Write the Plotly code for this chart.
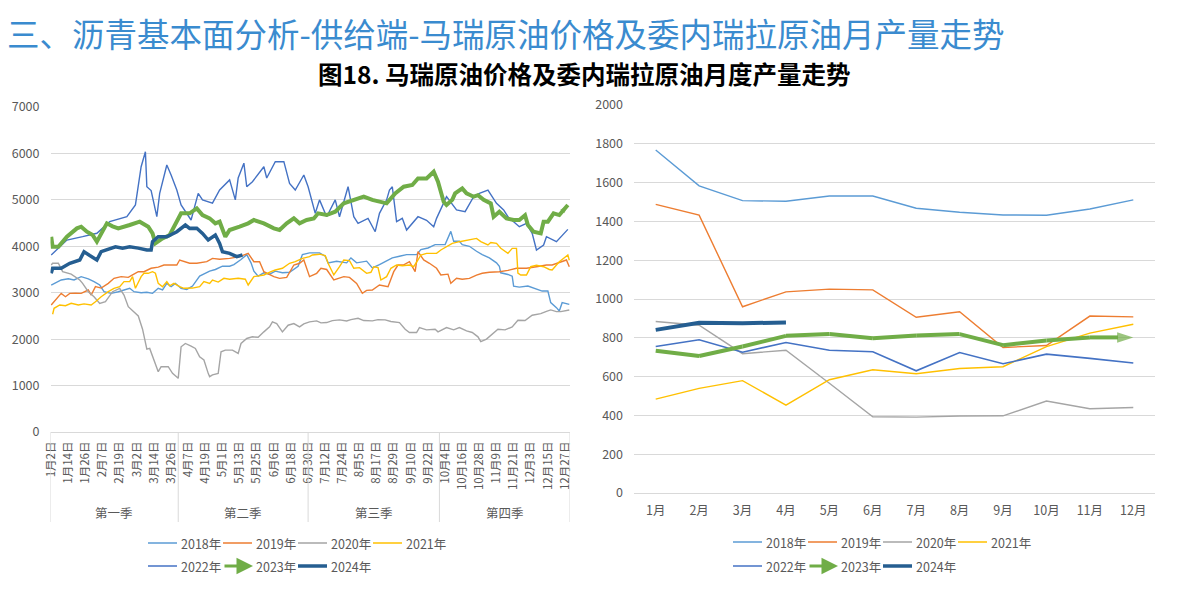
import plotly.graph_objects as go

W, H = 1187, 591
OFF = 8  # default page body margin
FW, FH = W - 2 * OFF, H - 2 * OFF
FONT = "Noto Sans CJK SC"
GRAY_TXT = "#595959"
GRID = "#D9D9D9"

# ---------------- data: left chart (Merey crude price, day index 0 = Jan 2) -------------
d2018 = [0,7,12,16,21,26,30,34,37,42,47,51,55,58,63,67,71,75,78,81,84,87,91,95,99,104,107,111,115,120,125,128,133,137,140,142,145,149,153,157,162,167,173,176,181,184,188,192,194,200,207,210,214,221,225,230,239,244,249,256,259,264,269,276,280,282,286,288,293,298,302,307,312,314,315,320,323,324,328,334,340,344,348,350,354,356,358,363]
v2018 = [3166,3274,3300,3274,3346,3300,3238,3166,3022,2986,3020,3058,3095,3022,3000,3010,2986,3095,3060,3202,3130,3202,3095,3071,3143,3357,3400,3464,3500,3571,3571,3607,3714,3821,3643,3464,3357,3429,3400,3464,3430,3440,3571,3821,3857,3857,3857,3786,3643,3679,3643,3750,3643,3680,3536,3607,3750,3786,3821,3821,3929,3964,4036,4036,4321,4107,4107,4036,4000,3893,3821,3750,3643,3571,3429,3393,3357,3143,3120,3143,3071,3036,3036,2786,2679,2607,2786,2750]

d2019 = [0,5,7,10,13,17,21,26,28,31,35,40,44,49,54,57,61,65,70,75,79,84,88,90,97,102,109,113,118,125,132,138,142,146,149,151,156,160,165,170,174,177,181,186,189,193,198,205,209,214,218,221,225,230,236,240,243,247,251,255,257,261,265,270,273,278,280,284,288,293,298,302,307,314,320,326,333,340,347,351,357,361,363]
v2019 = [2736,2914,2986,2914,2986,2990,2986,3058,2950,3130,3100,3202,3310,3346,3330,3382,3453,3453,3526,3550,3597,3597,3597,3705,3634,3634,3668,3740,3720,3740,3776,3847,3668,3668,3453,3420,3346,3310,3330,3597,3634,3705,3346,3418,3526,3500,3274,3346,3330,3202,2987,3050,3058,3166,3130,3453,3597,3600,3668,3453,3883,3705,3634,3526,3382,3400,3202,3310,3290,3310,3380,3418,3440,3453,3480,3526,3526,3560,3597,3597,3668,3705,3560]

d2020 = [0,1,5,8,14,20,22,26,30,34,38,43,48,51,54,59,61,64,67,69,72,75,77,82,85,89,91,94,98,101,104,107,110,111,113,117,119,122,127,131,133,137,141,145,149,153,155,158,162,166,170,174,177,181,186,189,193,197,202,207,210,215,219,225,229,234,238,244,248,251,256,258,263,269,271,274,277,282,286,291,295,299,301,305,308,313,318,323,327,332,337,343,347,350,354,357,363]
v2020 = [3597,3634,3634,3453,3400,3274,3202,3022,2914,2771,2806,3022,3095,2950,2699,2556,2500,2214,1785,1800,1571,1299,1406,1406,1263,1156,1836,1907,1850,1800,1621,1550,1263,1192,1230,1263,1728,1764,1764,1693,1907,2014,2050,2040,2157,2264,2371,2336,2157,2300,2336,2264,2330,2371,2393,2350,2357,2400,2414,2390,2420,2450,2400,2393,2420,2414,2380,2357,2214,2143,2143,2250,2200,2214,2157,2200,2250,2200,2250,2178,2143,2050,1945,2000,2088,2214,2200,2264,2407,2400,2514,2550,2600,2629,2593,2593,2629]

d2021 = [1,2,6,10,14,19,23,28,31,35,40,44,48,51,55,57,59,63,65,68,71,73,75,78,81,83,86,90,93,99,104,107,111,113,117,121,125,131,136,138,142,149,154,157,162,167,171,176,181,183,188,192,194,198,202,205,209,212,216,221,224,226,229,231,235,238,242,246,251,254,257,259,263,267,270,273,277,281,286,291,298,301,306,308,312,315,320,323,326,327,329,333,336,340,345,349,351,356,360,362,363]
v2021 = [2536,2664,2736,2720,2771,2736,2760,2736,2806,2914,3022,3095,3130,3238,3238,3346,3095,3346,3418,3418,3453,3420,3202,3130,3238,3150,3202,3130,3095,3100,3130,3238,3200,3274,3230,3310,3290,3310,3290,3166,3346,3382,3453,3489,3526,3634,3668,3740,3776,3812,3830,3800,3634,3382,3560,3705,3690,3526,3540,3418,3440,3560,3540,3274,3346,3526,3597,3580,3597,3560,3705,3812,3847,3850,3847,3920,3990,4063,4099,4135,4170,4100,4028,4080,4063,3956,3847,3956,3956,3420,3382,3382,3560,3590,3560,3500,3489,3668,3776,3812,3700]

d2022 = [0,11,22,32,41,53,59,61,63,66,67,70,74,76,81,84,88,91,98,103,106,113,118,125,129,131,135,137,141,149,151,157,163,167,171,177,180,185,188,193,199,202,208,212,215,222,227,230,235,237,239,242,246,249,257,263,268,270,277,284,290,296,300,306,312,317,320,328,333,337,340,345,347,354,359,362]
v2022 = [3812,4135,4207,4280,4530,4637,4890,5320,5714,6037,5283,5200,4637,5140,5750,5535,5212,4890,4566,5140,5000,4930,5212,5430,5000,5470,5790,5283,5390,5714,5470,5822,5822,5356,5212,5535,5283,4710,5000,4637,5000,4637,5283,4637,4494,4600,4314,4710,5000,5212,5283,4530,4602,4350,4637,4560,4422,4602,5068,4782,4745,5068,5140,5212,4925,4782,4637,4422,4494,4278,3920,4028,4206,4099,4278,4364]

d2023 = [0,1,5,11,18,21,25,29,32,36,39,43,47,55,62,68,71,73,78,83,87,91,97,102,106,111,115,118,122,125,132,138,142,149,156,160,165,170,174,179,184,187,193,199,205,212,219,225,230,235,241,247,253,257,263,268,271,275,277,281,283,288,291,296,299,303,308,310,314,319,324,328,332,334,338,343,345,348,352,356,359,362]
v2023 = [4206,3990,3990,4206,4386,4422,4314,4243,4099,4350,4494,4430,4386,4458,4530,4422,4278,4063,4170,4243,4494,4710,4710,4817,4673,4602,4494,4530,4206,4350,4422,4494,4566,4494,4386,4350,4494,4602,4494,4566,4600,4710,4673,4745,4925,5000,5068,5000,4960,4925,5140,5283,5320,5462,5462,5606,5391,4960,4890,5000,5140,5247,5140,5068,5100,5000,4925,4637,4745,4602,4566,4566,4670,4458,4314,4278,4530,4530,4710,4673,4782,4890]

d2024 = [0,1,7,13,20,23,27,32,35,39,45,50,55,61,67,70,71,75,81,88,94,97,102,106,110,115,118,120,125,130,134]
v2024 = [3418,3526,3526,3634,3705,3883,3800,3705,3883,3920,3990,3956,3990,3960,3920,3920,4099,4206,4206,4314,4458,4386,4390,4278,4135,4243,4063,3883,3847,3776,3812]

date_ticks = ["1月2日","1月14日","1月26日","2月7日","2月19日","3月2日","3月14日","3月26日",
              "4月7日","4月19日","5月1日","5月13日","5月25日","6月6日","6月18日","6月30日",
              "7月12日","7月24日","8月5日","8月17日","8月29日","9月10日","9月22日",
              "10月4日","10月16日","10月28日","11月9日","11月21日","12月3日","12月15日","12月27日"]
quarters = ["第一季", "第二季", "第三季", "第四季"]
quarter_edges = [-0.5, 89, 180, 272, 363.5]

# ---------------- data: right chart (Venezuela monthly crude output) -------------
months = ["1月","2月","3月","4月","5月","6月","7月","8月","9月","10月","11月","12月"]
p2018 = [1768,1583,1507,1504,1531,1531,1468,1447,1433,1432,1464,1511]
p2019 = [1488,1432,960,1037,1051,1047,906,934,750,760,912,908]
p2020 = [884,865,718,736,566,393,391,397,398,474,434,441]
p2021 = [484,539,579,453,584,635,615,642,651,755,824,870]
p2022 = [755,790,726,776,736,728,630,724,666,716,694,670]
p2023 = [733,706,755,810,819,798,812,819,762,786,802,802]
p2024 = [841,877,875,879]

years = ["2018年","2019年","2020年","2021年","2022年","2023年","2024年"]
colors = ["#5B9BD5","#ED7D31","#A5A5A5","#FFC000","#4472C4","#70AD47","#255E91"]
lw_left = [1.4,1.4,1.4,1.4,1.4,4,3.5]
lw_right = [1.4,1.4,1.4,1.4,1.6,4,4]

def px(x):
    return (x - OFF) / FW

def py(y):
    return 1 - (y - OFF) / FH

fig = go.Figure()

left_days = [d2018, d2019, d2020, d2021, d2022, d2023, d2024]
left_vals = [v2018, v2019, v2020, v2021, v2022, v2023, v2024]
for i, (dd, vv) in enumerate(zip(left_days, left_vals)):
    n = min(len(dd), len(vv))
    tr = dict(x=dd[:n], y=vv[:n], mode="lines", name=years[i],
              line=dict(color=colors[i], width=lw_left[i]),
              xaxis="x", yaxis="y", showlegend=False, hoverinfo="skip")
    if years[i] == "2023年":
        tr["mode"] = "lines+markers"
        tr["marker"] = dict(symbol="arrow", angleref="previous",
                            size=[0] * (n - 1) + [9], color=colors[i], line=dict(width=0))
    fig.add_trace(go.Scatter(**tr))

right_vals = [p2018, p2019, p2020, p2021, p2022, p2023, p2024]
for i, vv in enumerate(right_vals):
    n = len(vv)
    tr = dict(x=months[:n], y=vv, mode="lines", name=years[i],
              line=dict(color=colors[i], width=lw_right[i]),
              xaxis="x2", yaxis="y2", showlegend=False, hoverinfo="skip")
    if years[i] == "2023年":
        tr["mode"] = "lines+markers"
        tr["marker"] = dict(symbol="arrow", angleref="previous",
                            size=[0] * (n - 1) + [17], color=colors[i], line=dict(width=0))
    fig.add_trace(go.Scatter(**tr))

tickfont = dict(family=FONT, size=12.5, color=GRAY_TXT)

fig.update_layout(
    width=FW, height=FH,
    margin=dict(l=0, r=0, t=0, b=0),
    paper_bgcolor="white", plot_bgcolor="white",
    font=dict(family=FONT, color=GRAY_TXT),
    xaxis=dict(domain=[px(50.5), px(570)], range=[-0.5, 363.5],
               tickmode="array", tickvals=[12 * i for i in range(len(date_ticks))],
               ticktext=date_ticks, tickangle=-90, tickfont=dict(family=FONT, size=11.5, color=GRAY_TXT),
               showgrid=False, zeroline=False, showline=True, linecolor=GRID, linewidth=1,
               ticks="", ticklabelstandoff=4, anchor="y", automargin=False),
    yaxis=dict(domain=[py(432), py(107)], range=[0, 7000], dtick=1000,
               showgrid=True, gridcolor=GRID, gridwidth=1, zeroline=False, showline=False,
               tickfont=tickfont, ticks="", ticklabelstandoff=10, anchor="x", automargin=False),
    xaxis2=dict(domain=[px(634), px(1155)], type="category", categoryorder="array",
                categoryarray=months, range=[-0.5, 11.5],
                showgrid=False, zeroline=False, showline=True, linecolor=GRID,
                tickfont=tickfont, ticks="", ticklabelstandoff=6, anchor="y2", automargin=False),
    yaxis2=dict(domain=[py(493), py(105)], range=[0, 2000], dtick=200,
                showgrid=True, gridcolor=GRID, gridwidth=1, zeroline=False, showline=False,
                tickfont=tickfont, ticks="", ticklabelstandoff=10, anchor="x2", automargin=False),
)

shapes = []
annotations = []

# quarter separators and labels under the left axis
for e in quarter_edges:
    shapes.append(dict(type="line", xref="x", yref="paper", x0=e, x1=e,
                       y0=py(432), y1=py(522), line=dict(color=GRID, width=1)))
for q, a, b in zip(quarters, quarter_edges[:-1], quarter_edges[1:]):
    annotations.append(dict(text=q, xref="x", yref="paper", x=(a + b) / 2, y=py(512),
                            showarrow=False, font=dict(family=FONT, size=12.5, color=GRAY_TXT),
                            xanchor="center", yanchor="middle"))

# legends (drawn manually)
def legend_block(x_lines, x_texts, y_rows):
    for i, yr in enumerate(years):
        row = 0 if i < 4 else 1
        col = i if i < 4 else i - 4
        x0, x1 = x_lines[col]
        yy = y_rows[row]
        if yr == "2023年":
            annotations.append(dict(text="", xref="paper", yref="paper",
                                    x=px(x1 + 1), y=py(yy), ax=-(x1 - x0 + 1), ay=0,
                                    showarrow=True, arrowhead=2, arrowsize=1.1,
                                    arrowwidth=3, arrowcolor=colors[i]))
        else:
            shapes.append(dict(type="line", xref="paper", yref="paper",
                               x0=px(x0), x1=px(x1), y0=py(yy), y1=py(yy),
                               line=dict(color=colors[i], width=3.5 if yr == "2024年" else 1.5)))
        annotations.append(dict(text=yr, xref="paper", yref="paper", x=px(x_texts[col]), y=py(yy),
                                showarrow=False, xanchor="left", yanchor="middle",
                                font=dict(family=FONT, size=12.5, color=GRAY_TXT)))

legend_block([(148, 177), (223, 252), (298, 327), (373, 402)], [179, 254, 329, 404], [543, 566])
legend_block([(733, 762), (808, 837), (883, 912), (958, 987)], [764, 839, 914, 989], [542, 566])

# titles
annotations.append(dict(text="三、沥青基本面分析-供给端-马瑞原油价格及委内瑞拉原油月产量走势",
                        xref="paper", yref="paper", x=px(6), y=py(8), showarrow=False,
                        xanchor="left", yanchor="top", borderpad=0,
                        font=dict(family=FONT, size=32.5, color="#3A8BCF")))
annotations.append(dict(text="<b>图18. 马瑞原油价格及委内瑞拉原油月度产量走势</b>",
                        xref="paper", yref="paper", x=px(584), y=py(73), showarrow=False,
                        xanchor="center", yanchor="middle", borderpad=0,
                        font=dict(family=FONT, size=24.5, color="#000000")))

fig.update_layout(shapes=shapes, annotations=annotations)
fig.write_html("out.html")
